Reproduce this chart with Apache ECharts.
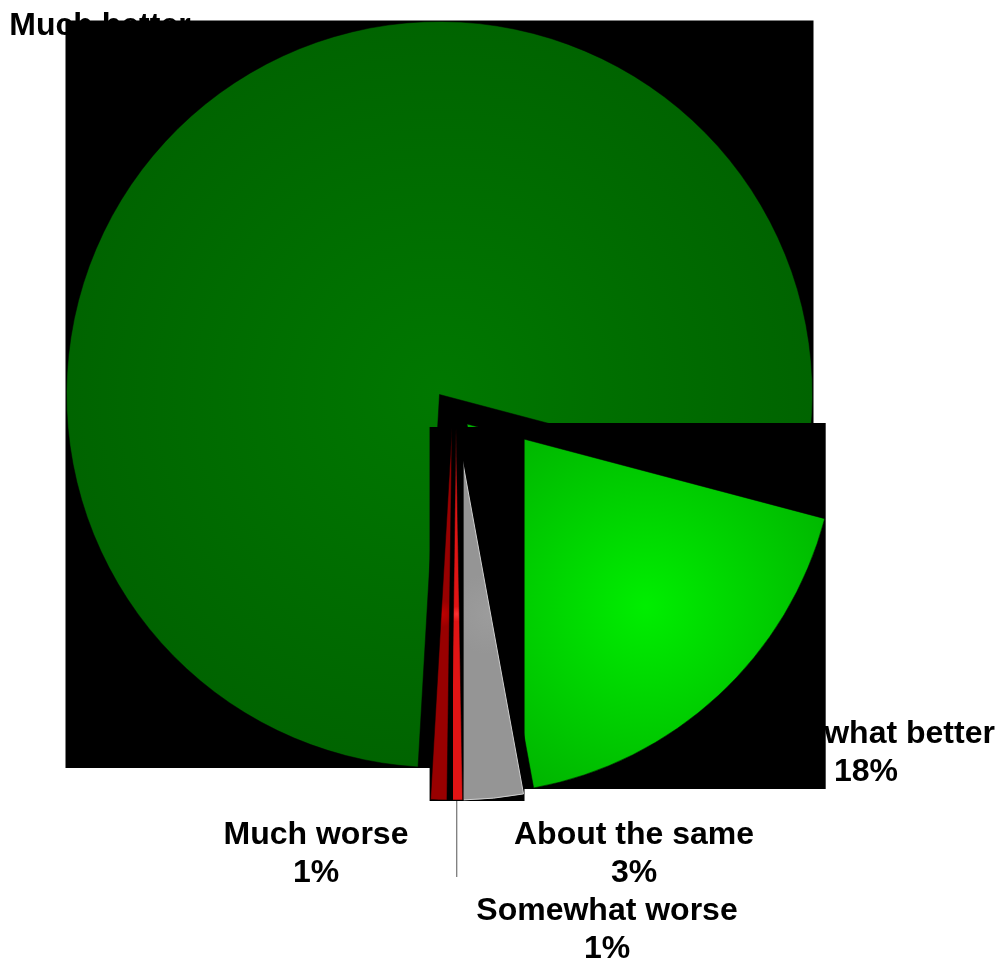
<!DOCTYPE html>
<html>
<head>
<meta charset="utf-8">
<script src="https://cdn.jsdelivr.net/npm/echarts@6/dist/echarts.min.js"></script>
<style>html,body{margin:0;padding:0;background:#fff;}#c{width:999px;height:960px;}</style>
</head>
<body>
<div id="c"></div>
<script>
// ---- data ----
const categories = ['Much better', 'Somewhat better', 'About the same', 'Somewhat worse', 'Much worse'];
const values = [78.2, 18.0, 2.6, 0.5, 0.7];

// ---- layout / style (kept apart from the data) ----
const START_THETA = 93.3; // screen-clockwise degrees from 3 o'clock where the first slice starts
const sliceCenters = [[439.5, 394.5], [467, 424], [456.5, 428], [456, 428], [452, 428]];
const sliceRadii = [373, 370, 372, 372, 372];
const sliceColors = [
  ['#007800', '#006000'],
  ['#00ee00', '#00b400'],
  ['#9c9c9c', '#959595'],
  ['#ff3434', '#e01414'],
  ['#c00000', '#980000']
];
const labelCenters = [[100, 45], [866, 753], [634, 854], [607, 930], [316, 854]];
const leaderLength = 77;
const FONT = '"Liberation Sans", Arial, sans-serif';

const total = values.reduce((a, b) => a + b, 0);
const pct = values.map(v => Math.round(v / total * 100));

function sliceAngles(i) {
  let cum = 0;
  for (let k = 0; k < i; k++) cum += values[k];
  const s = START_THETA + cum / total * 360;
  const e = s + values[i] / total * 360;
  return [s, e];
}
function pt(c, r, deg) {
  const a = deg * Math.PI / 180;
  return [c[0] + r * Math.cos(a), c[1] + r * Math.sin(a)];
}
function sliceBox(i) {
  const c = sliceCenters[i], r = sliceRadii[i];
  const [s, e] = sliceAngles(i);
  const pts = [c, pt(c, r, s), pt(c, r, e)];
  for (let k = Math.ceil(s / 90) * 90; k <= e; k += 90) pts.push(pt(c, r, k));
  const xs = pts.map(p => p[0]), ys = pts.map(p => p[1]);
  const x0 = Math.min(...xs), y0 = Math.min(...ys);
  return { x: x0 - 1, y: y0 - 1, width: Math.max(...xs) - x0 + 2, height: Math.max(...ys) - y0 + 2 };
}

const series = [];
const graphics = [];

// label layer (lowest): transparent slices only carrying labels
series.push({
  type: 'pie', z: 1, silent: true, animation: false,
  center: sliceCenters[0], radius: sliceRadii[0],
  startAngle: -START_THETA, clockwise: true, avoidLabelOverlap: false,
  data: categories.map((n, i) => ({
    name: n, value: values[i],
    itemStyle: { color: 'transparent' },
    labelLine: { show: i === 3, lineStyle: { color: '#555', width: 1 } }
  })),
  label: {
    show: true, position: 'outside',
    formatter: p => p.name + '\n' + pct[p.dataIndex] + '%',
    fontFamily: FONT, fontWeight: 'bold', fontSize: 32, lineHeight: 38,
    color: '#000', align: 'center'
  },
  labelLine: { show: false },
  labelLayout: function (p) {
    const i = p.dataIndex;
    const res = { x: labelCenters[i][0], y: labelCenters[i][1], align: 'center', verticalAlign: 'middle' };
    if (i === 3) {
      const [s, e] = sliceAngles(i);
      const a = pt(sliceCenters[i], sliceRadii[i], (s + e) / 2);
      const b = [a[0], a[1] + leaderLength];
      res.labelLinePoints = [a, b, b];
    }
    return res;
  }
});

categories.forEach((n, i) => {
  const box = sliceBox(i);
  graphics.push({ type: 'rect', z: 2 + 2 * i, silent: true, shape: box, style: { fill: '#000' } });
  const [s] = sliceAngles(i);
  series.push({
    type: 'pie', z: 3 + 2 * i, silent: true, animation: false,
    center: sliceCenters[i], radius: sliceRadii[i],
    startAngle: -s, clockwise: true,
    label: { show: false }, labelLine: { show: false },
    data: [
      {
        name: n, value: values[i],
        itemStyle: {
          color: {
            type: 'radial', x: 0.5, y: 0.5, r: 0.6,
            colorStops: [{ offset: 0, color: sliceColors[i][0] }, { offset: 1, color: sliceColors[i][1] }]
          },
          borderColor: i === 2 ? '#cfcfcf' : 'rgba(0,0,0,0.5)', borderWidth: 1
        }
      },
      { name: '', value: total - values[i], itemStyle: { color: 'transparent' } }
    ]
  });
});

const chart = echarts.init(document.getElementById('c'), null, { renderer: 'canvas' });
chart.setOption({ backgroundColor: '#fff', animation: false, series: series, graphic: graphics });
</script>
</body>
</html>
